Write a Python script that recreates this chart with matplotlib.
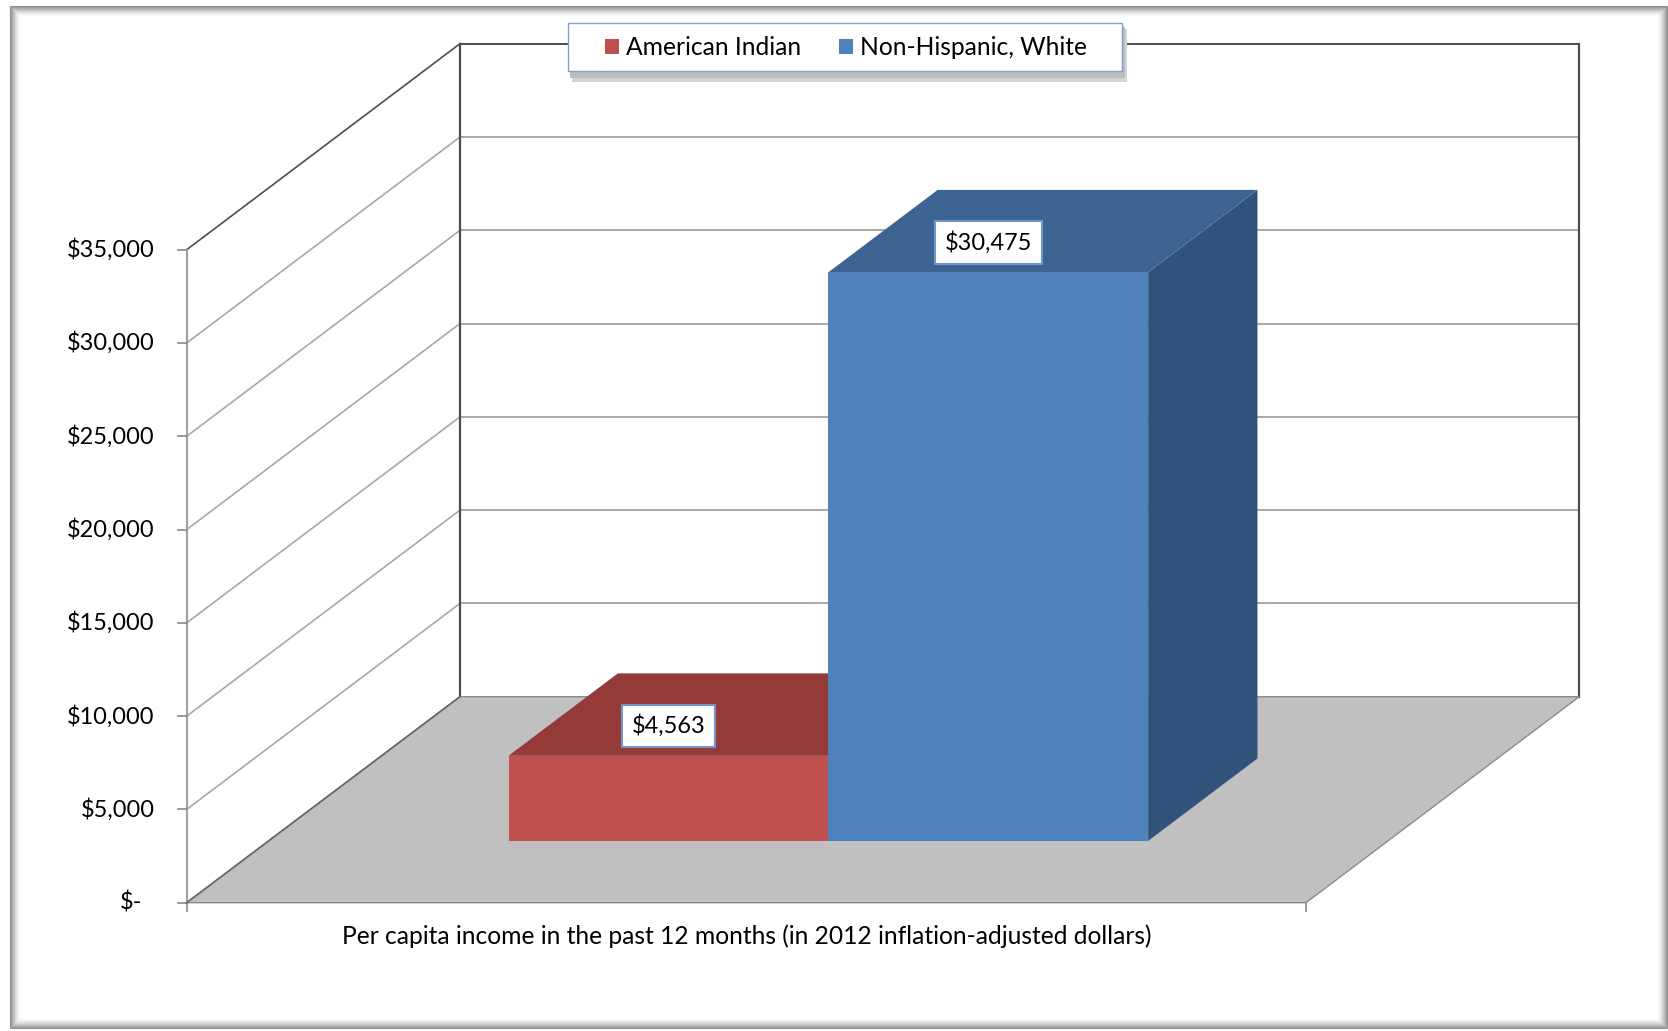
import matplotlib
matplotlib.use("Agg")
import matplotlib.pyplot as plt
from matplotlib.patches import Polygon, Rectangle, Patch

plt.rcParams['font.family'] = ['Lato', 'DejaVu Sans']

# ---------------- data ----------------
category = "Per capita income in the past 12 months (in 2012 inflation-adjusted dollars)"
series_names = ["American Indian", "Non-Hispanic, White"]
series_values = [4563, 30475]
data_labels = ["$4,563", "$30,475"]
y_ticks = [0, 5000, 10000, 15000, 20000, 25000, 30000, 35000]
y_labels = ["$-", "$5,000", "$10,000", "$15,000", "$20,000", "$25,000", "$30,000", "$35,000"]

# ---------------- styles ----------------
front_colors = ["#c0504d", "#4f81bd"]
top_colors = ["#943b39", "#3d6390"]
side_colors = ["#7a2f2d", "#31527b"]
GAP_WIDTH = 1.5      # Excel gap width 150 %
GAP_DEPTH = 1.5      # Excel gap depth 150 %
FS_TEXT = 17.7
FS_NUM = 16.9

W_PX, H_PX, DPI = 1668, 1031, 100
fig = plt.figure(figsize=(W_PX / DPI, H_PX / DPI), dpi=DPI)
ax = fig.add_axes([0, 0, 1, 1])
ax.axis('off')

# plot geometry in pixels (y downward)
X0_PX, X1_PX = 186.7, 1306.0
Y0_PX, YTOP_PX = 902.7, 249.7
DEPTH_PX = (273.3, 206.0)
YMAX = y_ticks[-1]
ppx = X1_PX - X0_PX
ppy = (Y0_PX - YTOP_PX) / YMAX
ax.set_xlim(-X0_PX / ppx, (W_PX - X0_PX) / ppx)
ax.set_ylim(-(H_PX - Y0_PX) / ppy, Y0_PX / ppy)
DX = DEPTH_PX[0] / ppx
DY = DEPTH_PX[1] / ppy


def fig_rect(x0, y0, x1, y1, **kw):
    r = Rectangle((x0 / W_PX, 1 - y1 / H_PX), (x1 - x0) / W_PX, (y1 - y0) / H_PX,
                  transform=fig.transFigure, **kw)
    ax.add_patch(r)
    return r


# ---------------- chart frame (inner shadow) ----------------
N = 10
for k in range(N):
    a = 0.65 * (1 - k / N) ** 1.5
    fig_rect(10 + k, 6 + k, 1667 - k, 1028 - k, fill=False,
             ec=(0.35, 0.35, 0.35, a), lw=0.8, zorder=0.5)

# ---------------- walls & gridlines ----------------
grid_c = "#a8a8a8"
dark_c = "#4d4d4d"
for v in y_ticks:
    c = dark_c if v == YMAX else grid_c
    ax.plot([DX, 1 + DX], [v + DY, v + DY], color=c, lw=1.4, zorder=1, solid_capstyle='butt')
    ax.plot([0, DX], [v, v + DY], color=c, lw=1.2, zorder=1)
ax.plot([DX, DX], [DY, YMAX + DY], color=dark_c, lw=1.6, zorder=1)
ax.plot([1 + DX, 1 + DX], [DY, YMAX + DY], color=dark_c, lw=1.6, zorder=1)
ax.plot([0, 0], [0, YMAX], color="#a0a0a0", lw=1.5, zorder=1)

# floor
floor = Polygon([(0, 0), (1, 0), (1 + DX, DY), (DX, DY)], closed=True,
                fc="#c0c0c0", ec="#8a8a8a", lw=1.0, zorder=2)
ax.add_patch(floor)
ax.plot([0, DX], [0, DY], color="#6a6a6a", lw=1.2, zorder=2.1)

# ---------------- bars ----------------
n = len(series_values)
bw = 1.0 / (n + GAP_WIDTH)
bd = 1.0 / (1 + GAP_DEPTH)
d0 = (1 - bd) / 2
d1 = d0 + bd
for i, v in enumerate(series_values):
    x0 = GAP_WIDTH / 2 * bw + i * bw
    x1 = x0 + bw
    front = [(x0 + d0 * DX, d0 * DY), (x1 + d0 * DX, d0 * DY),
             (x1 + d0 * DX, v + d0 * DY), (x0 + d0 * DX, v + d0 * DY)]
    top = [(x0 + d0 * DX, v + d0 * DY), (x1 + d0 * DX, v + d0 * DY),
           (x1 + d1 * DX, v + d1 * DY), (x0 + d1 * DX, v + d1 * DY)]
    side = [(x1 + d0 * DX, d0 * DY), (x1 + d1 * DX, d1 * DY),
            (x1 + d1 * DX, v + d1 * DY), (x1 + d0 * DX, v + d0 * DY)]
    z = 3 + i * 0.1
    ax.add_patch(Polygon(side, closed=True, fc=side_colors[i], ec='none', zorder=z))
    ax.add_patch(Polygon(top, closed=True, fc=top_colors[i], ec='none', zorder=z))
    ax.add_patch(Polygon(front, closed=True, fc=front_colors[i], ec='none', zorder=z + 0.01))
    ax.annotate(data_labels[i], xy=((x0 + x1) / 2 + d0 * DX, v + d0 * DY),
                xytext=(0, 30 * 72 / DPI), textcoords='offset points',
                ha='center', va='center', fontsize=FS_NUM, color='black', zorder=6,
                bbox=dict(boxstyle='square,pad=0.42', fc='white', ec='#6f95ca', lw=1.5))

# ---------------- ticks & labels ----------------
tick_x = 9 / ppx
for v, lab in zip(y_ticks, y_labels):
    ax.plot([-tick_x, 0], [v, v], color="#8a8a8a", lw=1.2, zorder=2)
    shift = 12 if lab == "$-" else 0
    ax.text(-(32 + shift) / ppx, v, lab, ha='right', va='center', fontsize=FS_NUM, color='black')
for xv in [0, 1]:
    ax.plot([xv, xv], [0, -8 / ppy], color="#8a8a8a", lw=1.2, zorder=2)
ax.text(0.5, -34 / ppy, category, ha='center', va='center', fontsize=FS_TEXT, color='black')

# ---------------- legend ----------------
fig_rect(572, 29, 1127, 82, fc="#d4d4d4", ec='none', zorder=4.3)
fig_rect(570, 27, 1125, 78, fc="#bdbdbd", ec='none', zorder=4.4)
fig_rect(568, 23, 1122, 71, fc='white', ec='#7f9fd0', lw=1.0, zorder=4.5)
handles = [Patch(fc=c, ec='none') for c in front_colors]
fs_px = FS_TEXT * DPI / 72
ax.legend(handles, series_names, loc='center left',
          bbox_to_anchor=(605 / W_PX, 1 - 47.5 / H_PX), bbox_transform=fig.transFigure,
          ncol=2, frameon=False, fontsize=FS_TEXT, handlelength=14 / fs_px, handleheight=14 / fs_px,
          handletextpad=7 / fs_px, columnspacing=38 / fs_px, borderpad=0, borderaxespad=0)

fig.savefig("out.png", dpi=DPI)
